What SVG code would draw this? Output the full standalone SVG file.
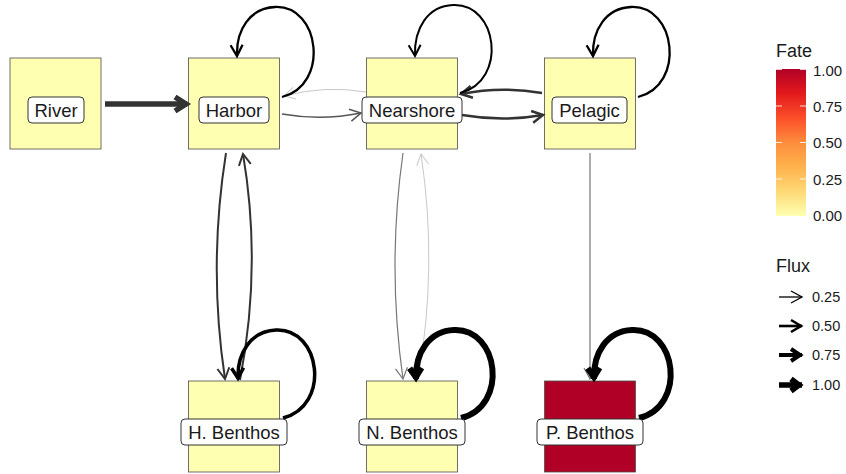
<svg xmlns="http://www.w3.org/2000/svg" width="846" height="474" viewBox="0 0 846 474">
<style>
.box{stroke:#4d4d4d;stroke-width:0.8}
.lbl{fill:#fff;stroke:#333;stroke-width:1}
.lt{font-family:"Liberation Sans",Arial,sans-serif;font-size:18.5px;fill:#1a1a1a;text-anchor:middle}
.leg{font-family:"Liberation Sans",Arial,sans-serif;fill:#1a1a1a}
.e{fill:none;stroke-linecap:butt}
</style>
<defs>
<linearGradient id="fate" x1="0" y1="1" x2="0" y2="0">
<stop offset="0" stop-color="#FFFFB2"/>
<stop offset="0.1667" stop-color="#FED976"/>
<stop offset="0.3333" stop-color="#FEB24C"/>
<stop offset="0.5" stop-color="#FD8D3C"/>
<stop offset="0.6667" stop-color="#FC4E2A"/>
<stop offset="0.8333" stop-color="#E31A1C"/>
<stop offset="1" stop-color="#B10026"/>
</linearGradient>
<marker id="mRiver" markerUnits="userSpaceOnUse" viewBox="-20 -15 30 30" markerWidth="30" markerHeight="30" refX="0" refY="0" orient="auto" overflow="visible"><path d="M-12,-7 L-1,0 L-12,7" fill="none" stroke="#333" stroke-width="5.5"/></marker>
<marker id="mK25" markerUnits="userSpaceOnUse" viewBox="-20 -15 30 30" markerWidth="30" markerHeight="30" refX="0" refY="0" orient="auto" overflow="visible"><path d="M-11,-6 L0,0 L-11,6" fill="none" stroke="#000" stroke-width="2.3"/></marker>
<marker id="mK20" markerUnits="userSpaceOnUse" viewBox="-20 -15 30 30" markerWidth="30" markerHeight="30" refX="0" refY="0" orient="auto" overflow="visible"><path d="M-11,-6 L0,0 L-11,6" fill="none" stroke="#000" stroke-width="2"/></marker>
<marker id="mK35" markerUnits="userSpaceOnUse" viewBox="-20 -15 30 30" markerWidth="30" markerHeight="30" refX="0" refY="0" orient="auto" overflow="visible"><path d="M-11,-6 L-1,0 L-11,6" fill="none" stroke="#000" stroke-width="3.5"/></marker>
<marker id="mK60" markerUnits="userSpaceOnUse" viewBox="-20 -15 30 30" markerWidth="30" markerHeight="30" refX="0" refY="0" orient="auto" overflow="visible"><path d="M-11,-6 L-2,0 L-11,6" fill="none" stroke="#000" stroke-width="6"/></marker>
<marker id="mD25" markerUnits="userSpaceOnUse" viewBox="-20 -15 30 30" markerWidth="30" markerHeight="30" refX="0" refY="0" orient="auto" overflow="visible"><path d="M-11,-6 L0,0 L-11,6" fill="none" stroke="#333" stroke-width="2.5"/></marker>
<marker id="mD20" markerUnits="userSpaceOnUse" viewBox="-20 -15 30 30" markerWidth="30" markerHeight="30" refX="0" refY="0" orient="auto" overflow="visible"><path d="M-11,-6 L0,0 L-11,6" fill="none" stroke="#333" stroke-width="2"/></marker>
<marker id="mG15" markerUnits="userSpaceOnUse" viewBox="-20 -15 30 30" markerWidth="30" markerHeight="30" refX="0" refY="0" orient="auto" overflow="visible"><path d="M-11,-6 L0,0 L-11,6" fill="none" stroke="#555" stroke-width="1.5"/></marker>
<marker id="mG12" markerUnits="userSpaceOnUse" viewBox="-20 -15 30 30" markerWidth="30" markerHeight="30" refX="0" refY="0" orient="auto" overflow="visible"><path d="M-11,-6 L0,0 L-11,6" fill="none" stroke="#777" stroke-width="1.2"/></marker>
<marker id="mL10" markerUnits="userSpaceOnUse" viewBox="-20 -15 30 30" markerWidth="30" markerHeight="30" refX="0" refY="0" orient="auto" overflow="visible"><path d="M-11,-6 L0,0 L-11,6" fill="none" stroke="#c8c8c8" stroke-width="1"/></marker>
<marker id="mF1" markerUnits="userSpaceOnUse" viewBox="-20 -15 30 30" markerWidth="30" markerHeight="30" refX="0" refY="0" orient="auto" overflow="visible"><path d="M-11,-6 L0,0 L-11,6" fill="none" stroke="#000" stroke-width="1.3"/></marker>
<marker id="mF2" markerUnits="userSpaceOnUse" viewBox="-20 -15 30 30" markerWidth="30" markerHeight="30" refX="0" refY="0" orient="auto" overflow="visible"><path d="M-11,-6 L-1,0 L-11,6" fill="none" stroke="#000" stroke-width="2.6"/></marker>
<marker id="mF3" markerUnits="userSpaceOnUse" viewBox="-20 -15 30 30" markerWidth="30" markerHeight="30" refX="0" refY="0" orient="auto" overflow="visible"><path d="M-11,-6 L-2,0 L-11,6" fill="none" stroke="#000" stroke-width="4"/></marker>
<marker id="mF4" markerUnits="userSpaceOnUse" viewBox="-20 -15 30 30" markerWidth="30" markerHeight="30" refX="0" refY="0" orient="auto" overflow="visible"><path d="M-11,-6 L-3,0 L-11,6" fill="none" stroke="#000" stroke-width="5.5"/></marker>
</defs>

<g id="node-river"><rect class="box" x="10" y="58" width="91" height="91" fill="#FFFFB2"/></g>
<g id="node-harbor"><rect class="box" x="188.5" y="58" width="91" height="91" fill="#FFFFB2"/></g>
<g id="node-nearshore"><rect class="box" x="366.5" y="58" width="91" height="91" fill="#FFFFB2"/></g>
<g id="node-pelagic"><rect class="box" x="544.5" y="58" width="91" height="91" fill="#FFFFB2"/></g>
<g id="node-hbenthos"><rect class="box" x="188.5" y="381" width="91" height="91" fill="#FFFFB2"/></g>
<g id="node-nbenthos"><rect class="box" x="366.5" y="381" width="91" height="91" fill="#FFFFB2"/></g>
<g id="node-pbenthos"><rect class="box" x="544.5" y="381" width="91" height="91" fill="#B10026"/></g>

<g id="edges">
<path class="e" d="M105,104 L187,104" stroke="#333" stroke-width="5.5" marker-end="url(#mRiver)"/>
<path class="e" d="M282,114 Q322,121 361,113" stroke="#555" stroke-width="1.5" marker-end="url(#mG15)"/>
<path class="e" d="M366,92 Q325,85 284,96" stroke="#c8c8c8" stroke-width="1" marker-end="url(#mL10)"/>
<path class="e" d="M462,115 Q503,122 543,115" stroke="#333" stroke-width="2.5" marker-end="url(#mD25)"/>
<path class="e" d="M542,93 Q501,86 461,94" stroke="#333" stroke-width="2.5" marker-end="url(#mD25)"/>
<path class="e" d="M226,153 Q208,266 225,379" stroke="#333" stroke-width="2" marker-end="url(#mD20)"/>
<path class="e" d="M240,380 Q262,266 243,154" stroke="#333" stroke-width="2" marker-end="url(#mD20)"/>
<path class="e" d="M403,153 Q387,266 403,379" stroke="#777" stroke-width="1.2" marker-end="url(#mG12)"/>
<path class="e" d="M418,380 Q438,266 421,154" stroke="#c8c8c8" stroke-width="1" marker-end="url(#mL10)"/>
<path class="e" d="M590,153 L590,379" stroke="#777" stroke-width="1.2" marker-end="url(#mG12)"/>
<path class="e" d="M282,97 C330,85 320,5 275,7 C250,8 236,30 237,56" stroke="#000" stroke-width="2.3" marker-end="url(#mK25)"/>
<path class="e" d="M460,93 C508,81 498,3 453,5 C428,6 414,28 415,56" stroke="#000" stroke-width="2" marker-end="url(#mK20)"/>
<path class="e" d="M638,97 C686,85 676,5 631,7 C606,8 592,30 593,56" stroke="#000" stroke-width="2.3" marker-end="url(#mK25)"/>
<path class="e" d="M283,418 C331,406 321,328 276,330 C251,331 237,353 238,379" stroke="#000" stroke-width="3.5" marker-end="url(#mK35)"/>
<path class="e" d="M461,418 C509,406 499,328 454,330 C429,331 415,353 416,379" stroke="#000" stroke-width="6" marker-end="url(#mK60)"/>
<path class="e" d="M639,418 C687,406 677,328 632,330 C607,331 593,353 594,379" stroke="#000" stroke-width="6" marker-end="url(#mK60)"/>
</g>

<g id="labels">
<rect class="lbl" x="28" y="97" width="56" height="26" rx="4"/><text class="lt" x="56" y="116.5">River</text>
<rect class="lbl" x="199" y="97" width="70" height="26" rx="4"/><text class="lt" x="234" y="116.5">Harbor</text>
<rect class="lbl" x="362" y="97" width="100" height="26" rx="4"/><text class="lt" x="412" y="116.5">Nearshore</text>
<rect class="lbl" x="552" y="97" width="75" height="26" rx="4"/><text class="lt" x="589.5" y="116.5">Pelagic</text>
<rect class="lbl" x="181" y="419" width="106" height="26" rx="4"/><text class="lt" x="234" y="438.5">H. Benthos</text>
<rect class="lbl" x="359" y="419" width="106" height="26" rx="4"/><text class="lt" x="412" y="438.5">N. Benthos</text>
<rect class="lbl" x="537" y="419" width="106" height="26" rx="4"/><text class="lt" x="590" y="438.5">P. Benthos</text>
</g>

<g id="legend-fate">
<text class="leg" x="776" y="57" font-size="18">Fate</text>
<rect x="776" y="69" width="30" height="147" fill="url(#fate)"/>
<g stroke="#fff" stroke-width="1" opacity="0.8">
<path d="M776,106 h6 M800,106 h6 M776,142.5 h6 M800,142.5 h6 M776,179 h6 M800,179 h6 M776,69.5 h6 M800,69.5 h6"/>
</g>
<g class="leg" font-size="15">
<text x="813" y="76">1.00</text>
<text x="813" y="112">0.75</text>
<text x="813" y="148">0.50</text>
<text x="813" y="185">0.25</text>
<text x="813" y="221">0.00</text>
</g>
</g>

<g id="legend-flux">
<text class="leg" x="776" y="272" font-size="18">Flux</text>
<path class="e" d="M779,297 L802,297" stroke="#000" stroke-width="1.3" marker-end="url(#mF1)"/>
<path class="e" d="M779,326 L802,326" stroke="#000" stroke-width="2.6" marker-end="url(#mF2)"/>
<path class="e" d="M779,355 L802,355" stroke="#000" stroke-width="4" marker-end="url(#mF3)"/>
<path class="e" d="M779,385 L802,385" stroke="#000" stroke-width="5.5" marker-end="url(#mF4)"/>
<g class="leg" font-size="14.5">
<text x="812" y="302">0.25</text>
<text x="812" y="331">0.50</text>
<text x="812" y="360">0.75</text>
<text x="812" y="390">1.00</text>
</g>
</g>
</svg>
